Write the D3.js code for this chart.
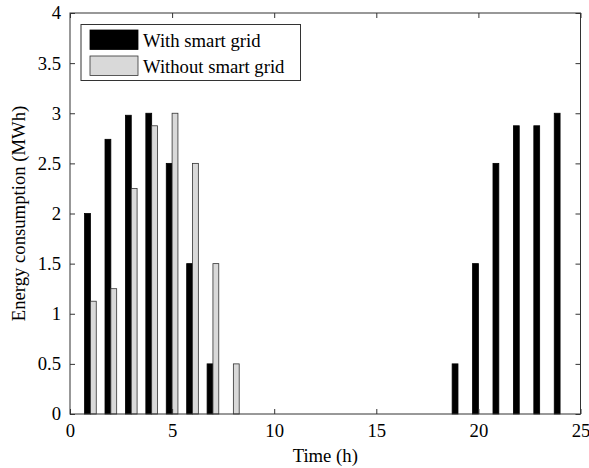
<!DOCTYPE html>
<html>
<head>
<meta charset="utf-8">
<script src="https://cdn.jsdelivr.net/npm/d3@7"></script>
<style>
html, body { margin: 0; padding: 0; background: #fff; }
svg { display: block; font-family: "Liberation Serif", "Times New Roman", serif; }
</style>
</head>
<body>
<script>
const hours = [1,2,3,4,5,6,7,8,9,10,11,12,13,14,15,16,17,18,19,20,21,22,23,24];
const withSmartGrid = [2, 2.74, 2.98, 3, 2.5, 1.5, 0.5, 0, 0, 0, 0, 0, 0, 0, 0, 0, 0, 0, 0.5, 1.5, 2.5, 2.875, 2.875, 3];
const withoutSmartGrid = [1.125, 1.25, 2.25, 2.875, 3, 2.5, 1.5, 0.5, 0, 0, 0, 0, 0, 0, 0, 0, 0, 0, 0, 0, 0, 0, 0, 0];
const seriesNames = ["With smart grid", "Without smart grid"];
const xTicks = [0, 5, 10, 15, 20, 25];
const yTicks = [0, 0.5, 1, 1.5, 2, 2.5, 3, 3.5, 4];

(function () {
const W = 589, H = 468;
const pL = 70, pR = 580.5, pT = 13, pB = 414;
const fs = 18.7;
const colors = ["#000000", "#d9d9d9"];
const strokes = ["#000000", "#333333"];

const svg = d3.select("body").append("svg").attr("width", W).attr("height", H);
const x = d3.scaleLinear().domain([0, 25]).range([pL, pR]);
const y = d3.scaleLinear().domain([0, 4]).range([pB, pT]);

const groupW = 0.5714;
const barW = groupW / 2;
const offsets = [-barW / 2, barW / 2];
const series = [withSmartGrid, withoutSmartGrid];

series.forEach((vals, si) => {
  const data = hours.map((h, i) => ({h, v: vals[i]})).filter(d => d.v > 0);
  svg.append("g").selectAll("rect").data(data).join("rect")
    .attr("x", d => x(d.h + offsets[si] - barW / 2))
    .attr("width", d => x(barW) - x(0))
    .attr("y", d => y(d.v))
    .attr("height", d => y(0) - y(d.v))
    .attr("fill", colors[si])
    .attr("stroke", strokes[si])
    .attr("stroke-width", 0.8);
});

const tickLen = 5;
const axisColor = "#333";
const gB = svg.append("g").attr("transform", `translate(0,${pB})`)
  .call(d3.axisBottom(x).tickValues(xTicks).tickSize(-tickLen).tickPadding(10).tickFormat(d3.format("d")));
const gT = svg.append("g").attr("transform", `translate(0,${pT})`)
  .call(d3.axisTop(x).tickValues(xTicks).tickSize(-tickLen).tickFormat(""));
const gL = svg.append("g").attr("transform", `translate(${pL},0)`)
  .call(d3.axisLeft(y).tickValues(yTicks).tickSize(-tickLen).tickPadding(9).tickFormat(d => String(d)));
const gR = svg.append("g").attr("transform", `translate(${pR},0)`)
  .call(d3.axisRight(y).tickValues(yTicks).tickSize(-tickLen).tickFormat(""));

[gB, gT, gL, gR].forEach(g => {
  g.select(".domain").remove();
  g.selectAll(".tick line").attr("stroke", axisColor);
  g.selectAll("text").attr("fill", "#000").style("font-size", fs + "px")
    .style("font-family", '"Liberation Serif", "Times New Roman", serif');
});
gB.selectAll(".tick text").attr("dy", "0.71em");

svg.append("rect").attr("x", pL).attr("y", pT)
  .attr("width", pR - pL).attr("height", pB - pT)
  .attr("fill", "none").attr("stroke", axisColor).attr("stroke-width", 1);

svg.append("text").attr("x", (pL + pR) / 2).attr("y", 462)
  .attr("text-anchor", "middle").style("font-size", fs + "px").text("Time (h)");
svg.append("text").attr("transform", `translate(25,${(pT + pB) / 2}) rotate(-90)`)
  .attr("text-anchor", "middle").style("font-size", fs + "px").text("Energy consumption (MWh)");

const lg = svg.append("g");
lg.append("rect").attr("x", 81).attr("y", 24.5).attr("width", 219.5).attr("height", 56)
  .attr("fill", "#fff").attr("stroke", axisColor).attr("stroke-width", 1);
seriesNames.forEach((name, i) => {
  const yy = 30 + i * 26;
  lg.append("rect").attr("x", 90).attr("y", yy).attr("width", 48).attr("height", 19.5)
    .attr("fill", colors[i]).attr("stroke", strokes[i]).attr("stroke-width", 0.8);
  lg.append("text").attr("x", 143).attr("y", yy + 17.3)
    .style("font-size", fs + "px").text(name);
});
})();
</script>
</body>
</html>
